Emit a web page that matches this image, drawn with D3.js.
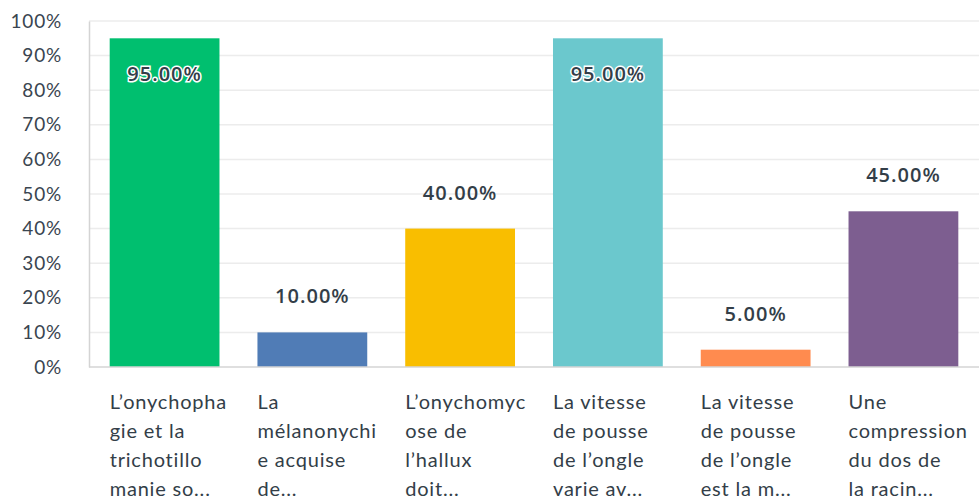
<!DOCTYPE html>
<html>
<head>
<meta charset="utf-8">
<style>
  body { margin: 0; background: #fff; }
</style>
</head>
<body>
<div id="chart"></div>
<script src="https://d3js.org/d3.v7.min.js"></script>
<script>
// data
var categories = ["q1", "q2", "q3", "q4", "q5", "q6"];
var labelLines = [
  ["L\u2019onychopha", "gie et la", "trichotillo", "manie so..."],
  ["La", "mélanonychi", "e acquise", "de..."],
  ["L\u2019onychomyc", "ose de", "l\u2019hallux", "doit..."],
  ["La vitesse", "de pousse", "de l\u2019ongle", "varie av..."],
  ["La vitesse", "de pousse", "de l\u2019ongle", "est la m..."],
  ["Une", "compression", "du dos de", "la racin..."]
];
var values = [95, 10, 40, 95, 5, 45];
var colors = ["#00bf6f", "#507cb6", "#f9be00", "#6bc8cd", "#ff8b4f", "#7d5e90"];
var yTicks = [0, 10, 20, 30, 40, 50, 60, 70, 80, 90, 100];

var width = 979, height = 500;
var margin = {top: 21, right: 0, bottom: 133, left: 89};

var svg = d3.select("#chart").append("svg")
  .attr("width", width).attr("height", height);

var x = d3.scaleBand().domain(categories)
  .range([margin.left, width - margin.right])
  .paddingInner(0.257).paddingOuter(0.14);
var y = d3.scaleLinear().domain([0, 100])
  .range([height - margin.bottom, margin.top]);

// gridlines
svg.append("g").selectAll("line")
  .data(yTicks.filter(function(d) { return d > 0; }))
  .enter().append("line")
  .attr("x1", margin.left).attr("x2", width)
  .attr("y1", function(d) { return y(d); }).attr("y2", function(d) { return y(d); })
  .attr("stroke", "#ececec").attr("stroke-width", 1.5);

// y axis
var yAxis = svg.append("g")
  .attr("transform", "translate(" + margin.left + ",0)")
  .call(d3.axisLeft(y).tickValues(yTicks).tickSize(0).tickPadding(27)
    .tickFormat(function(d) { return d + "%"; }));
yAxis.select(".domain").attr("stroke", "#d4d4d4").attr("stroke-width", 1.5);
yAxis.selectAll("text")
  .style("font-family", "Lato, sans-serif").style("font-size", "19px")
  .style("letter-spacing", "0.8px")
  .attr("fill", "#3a4550");

// bars
svg.append("g").selectAll("rect")
  .data(values).enter().append("rect")
  .attr("x", function(d, i) { return x(categories[i]); })
  .attr("y", function(d) { return y(d); })
  .attr("width", x.bandwidth())
  .attr("height", function(d) { return y(0) - y(d); })
  .attr("fill", function(d, i) { return colors[i]; });

// bottom axis line
svg.append("line")
  .attr("x1", margin.left).attr("x2", width)
  .attr("y1", y(0)).attr("y2", y(0))
  .attr("stroke", "#d4d4d4").attr("stroke-width", 1.5);

// value labels: inside for tall bars, above otherwise
svg.append("g").selectAll("text")
  .data(values).enter().append("text")
  .attr("x", function(d, i) { return x(categories[i]) + x.bandwidth() / 2; })
  .attr("y", function(d) { return d > 80 ? y(d) + 43 : y(d) - 29; })
  .attr("text-anchor", "middle")
  .style("font-family", "'Open Sans', sans-serif").style("font-size", "20px")
  .style("font-weight", "600").style("letter-spacing", "1px")
  .attr("fill", "#333e48")
  .attr("stroke", function(d) { return d > 80 ? "#fff" : "none"; })
  .attr("stroke-width", 3).attr("paint-order", "stroke")
  .text(function(d) { return d.toFixed(2) + "%"; });

// category labels
var cat = svg.append("g").selectAll("text")
  .data(labelLines).enter().append("text")
  .attr("x", function(d, i) { return x(categories[i]); })
  .attr("y", 409)
  .style("font-family", "Lato, sans-serif").style("font-size", "20px")
  .style("letter-spacing", "0.8px")
  .attr("fill", "#333e48");
cat.selectAll("tspan")
  .data(function(d) { return d; }).enter().append("tspan")
  .attr("x", function() { return d3.select(this.parentNode).attr("x"); })
  .attr("dy", function(d, j) { return j === 0 ? 0 : 29; })
  .text(function(d) { return d; });
</script>
</body>
</html>
